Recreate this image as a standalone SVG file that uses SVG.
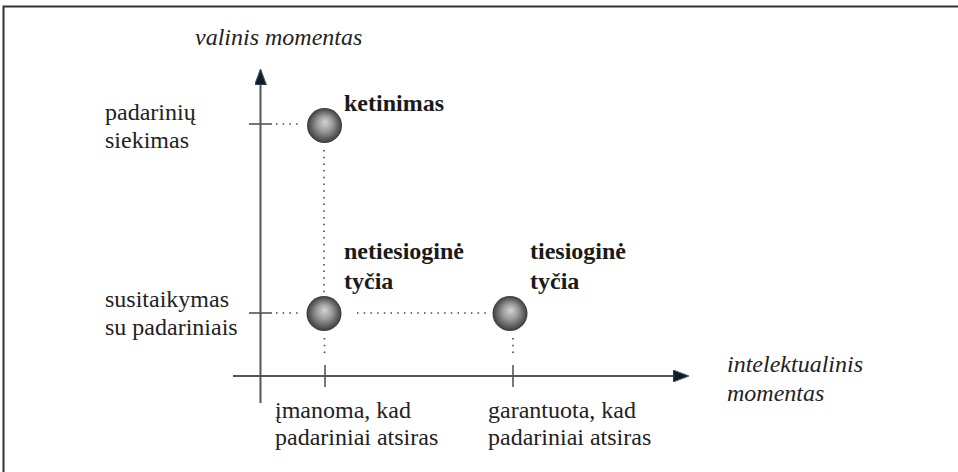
<svg xmlns="http://www.w3.org/2000/svg" width="958" height="472" viewBox="0 0 958 472" font-family="Liberation Serif, Times New Roman, DejaVu Serif, serif">
<style>
.tx{font-size:24px;fill:#222}
.i{font-style:italic}
.b{font-weight:bold;fill:#1a1a1a}
.ax{stroke:#555;stroke-width:2;fill:none}
.tk{stroke:#555;stroke-width:1.6;fill:none}
.dot{stroke:#444;stroke-width:1.6;stroke-dasharray:1.5 5.2;fill:none}
</style>
<defs>
<radialGradient id="ball" cx="0.5" cy="0.5" r="0.5" fx="0.52" fy="0.4">
<stop offset="0" stop-color="#d4d4d4"/>
<stop offset="0.45" stop-color="#9a9a9a"/>
<stop offset="0.85" stop-color="#555"/>
<stop offset="1" stop-color="#3a3a3a"/>
</radialGradient>
<marker id="arr" viewBox="0 0 16 12" refX="15" refY="6" markerWidth="16" markerHeight="12" markerUnits="userSpaceOnUse" orient="auto">
<path d="M0,0 L16,6 L0,12 Z" fill="#141c26" stroke="#3d5d78" stroke-width="1"/>
</marker>
</defs>
<rect x="0" y="0" width="958" height="472" fill="#fff"/>
<path d="M3.5,472 V6.5 H958" fill="none" stroke="#333" stroke-width="2"/>
<g id="connectors">
<line class="ax" x1="260.5" y1="403" x2="260.5" y2="70" marker-end="url(#arr)"/>
<line class="ax" x1="233" y1="376" x2="688" y2="376" marker-end="url(#arr)"/>
<line class="tk" x1="249" y1="124" x2="272" y2="124"/>
<line class="tk" x1="249" y1="313" x2="272" y2="313"/>
<line class="tk" x1="325" y1="365" x2="325" y2="387"/>
<line class="tk" x1="513" y1="365" x2="513" y2="387"/>
<line class="dot" x1="276" y1="124" x2="302" y2="124"/>
<line class="dot" x1="276" y1="313" x2="302" y2="313"/>
<line class="dot" x1="324" y1="150" x2="324" y2="294"/>
<line class="dot" x1="357" y1="313" x2="490" y2="313"/>
<line class="dot" x1="324.5" y1="338" x2="324.5" y2="358"/>
<line class="dot" x1="513" y1="338" x2="513" y2="358"/>
</g>
<g id="axis-labels" class="tx i" font-family="Liberation Serif, serif">
<text x="195" y="45">valinis momentas</text>
<text x="727" y="372">intelektualinis</text>
<text x="727" y="401">momentas</text>
</g>
<g id="y-labels" class="tx" font-family="Liberation Serif, serif">
<text x="105" y="120">padarinių</text>
<text x="105" y="148">siekimas</text>
<text x="105" y="307">susitaikymas</text>
<text x="105" y="335">su padariniais</text>
</g>
<g id="x-labels" class="tx" font-family="Liberation Serif, serif">
<text x="275" y="418">įmanoma, kad</text>
<text x="275" y="445">padariniai atsiras</text>
<text x="488" y="418">garantuota, kad</text>
<text x="488" y="445">padariniai atsiras</text>
</g>
<g id="node-ketinimas" class="tx b" font-family="Liberation Serif, serif">
<circle cx="324.5" cy="125.5" r="17.5" fill="url(#ball)"/>
<text x="344" y="111">ketinimas</text>
</g>
<g id="node-netiesiogine" class="tx b" font-family="Liberation Serif, serif">
<circle cx="324" cy="313.5" r="17.5" fill="url(#ball)"/>
<text x="344" y="259">netiesioginė</text>
<text x="344" y="289">tyčia</text>
</g>
<g id="node-tiesiogine" class="tx b" font-family="Liberation Serif, serif">
<circle cx="510" cy="313.5" r="17.5" fill="url(#ball)"/>
<text x="530" y="259">tiesioginė</text>
<text x="530" y="289">tyčia</text>
</g>
</svg>
